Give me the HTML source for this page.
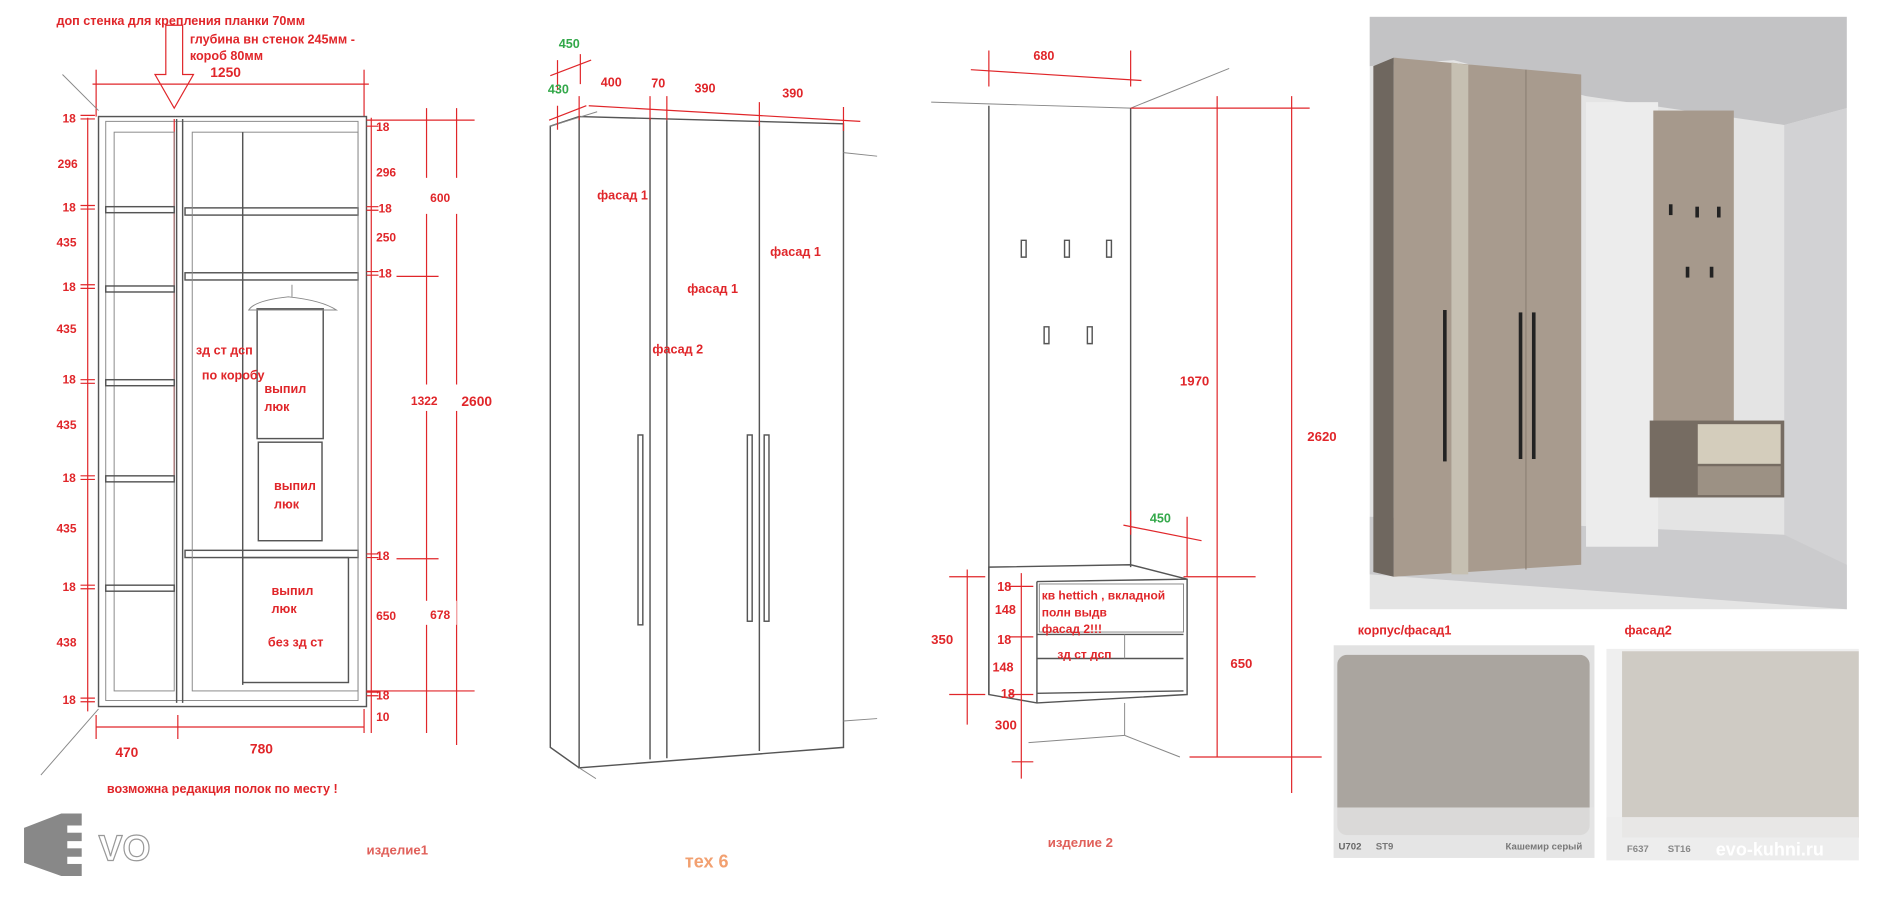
<!DOCTYPE html>
<html><head><meta charset="utf-8"><style>
html,body{margin:0;padding:0;background:#fff;width:1884px;height:900px;overflow:hidden}
svg{display:block;font-size:10.5px}
text{font-family:"Liberation Sans","DejaVu Sans",sans-serif;font-weight:bold;fill:#e0262a}
.l{stroke:#555;stroke-width:1.2;fill:none}
.lt{stroke:#888;stroke-width:0.8;fill:none}
.r{stroke:#e0262a;stroke-width:1;fill:none}
</style></head><body>
<svg width="1884" height="900" viewBox="0 0 1568 749" preserveAspectRatio="none" xmlns="http://www.w3.org/2000/svg" font-size="10.5">
<rect width="1568" height="749" fill="#fff"/>

<!-- ===== Item 1 drawing ===== -->
<text x="47" y="21">доп стенка для крепления планки 70мм</text>
<text x="158" y="36">глубина вн стенок 245мм -</text>
<text x="158" y="50">короб 80мм</text>
<text x="175" y="64" font-size="11.5">1250</text>
<polygon points="138,21 152,21 152,62 161,62 145,90 129,62 138,62" fill="#fff" stroke="#e0262a" stroke-width="1"/>
<line class="r" x1="77" y1="70" x2="307" y2="70"/>
<line class="r" x1="80" y1="58" x2="80" y2="97"/><line class="r" x1="303" y1="58" x2="303" y2="97"/>
<line class="lt" x1="52" y1="62" x2="82" y2="92"/>
<line class="lt" x1="82" y1="590" x2="34" y2="645"/>
<rect class="l" x="82" y="97" width="223" height="491"/>
<rect class="lt" x="88" y="101" width="210" height="482"/>
<line class="l" x1="147" y1="99" x2="147" y2="585"/><line class="l" x1="152" y1="99" x2="152" y2="585"/>
<line x1="145" y1="99" x2="145" y2="400" stroke="#e0262a" stroke-width="1"/>
<rect class="lt" x="95" y="110" width="50" height="465"/>
<g class="l">
<rect x="88" y="172" width="57" height="5"/><rect x="88" y="238" width="57" height="5"/><rect x="88" y="316" width="57" height="5"/><rect x="88" y="396" width="57" height="5"/><rect x="88" y="487" width="57" height="5"/>
<rect x="154" y="173" width="144" height="6"/><rect x="154" y="227" width="144" height="6"/><rect x="154" y="458" width="144" height="6"/>
</g>
<rect class="lt" x="160" y="110" width="138" height="465"/>
<line class="l" x1="202" y1="110" x2="202" y2="570"/>
<rect class="l" x="214" y="257" width="55" height="108"/>
<rect class="l" x="215" y="368" width="53" height="82"/>
<rect class="l" x="202" y="464" width="88" height="104"/>
<path class="lt" d="M207,258 Q212,250 240,247 Q268,250 280,258 Z M243,237 L243,247"/>
<text x="163" y="295">зд ст дсп</text>
<text x="168" y="316">по коробу</text>
<text x="220" y="327">выпил</text><text x="220" y="342">люк</text>
<text x="228" y="408">выпил</text><text x="228" y="423">люк</text>
<text x="226" y="495">выпил</text><text x="226" y="510">люк</text>
<text x="223" y="538">без зд ст</text>
<line class="r" x1="73" y1="98" x2="73" y2="592"/>
<g font-size="10">
<text x="52" y="102">18</text><text x="48" y="140">296</text><text x="52" y="176">18</text><text x="47" y="205">435</text><text x="52" y="242">18</text><text x="47" y="277">435</text><text x="52" y="319">18</text><text x="47" y="357">435</text><text x="52" y="401">18</text><text x="47" y="443">435</text><text x="52" y="492">18</text><text x="47" y="538">438</text><text x="52" y="586">18</text>
</g>
<path class="r" d="M67,96h12M67,99h12M67,171h12M67,174h12M67,237h12M67,240h12M67,316h12M67,319h12M67,396h12M67,399h12M67,487h12M67,490h12M67,581h12M67,584h12"/>
<line class="r" x1="309" y1="98" x2="309" y2="610"/>
<line class="r" x1="355" y1="90" x2="355" y2="610"/>
<line class="r" x1="380" y1="90" x2="380" y2="620"/>
<line class="r" x1="305" y1="100" x2="395" y2="100"/>
<line class="r" x1="330" y1="230" x2="365" y2="230"/><line class="r" x1="330" y1="465" x2="365" y2="465"/>
<line class="r" x1="305" y1="575" x2="395" y2="575"/>
<path class="r" d="M305,105h10M305,172h10M305,175h10M305,226h10M305,229h10M305,461h10M305,464h10M305,576h10M305,579h10"/>
<rect x="345" y="148" width="40" height="30" fill="#fff"/>
<rect x="340" y="320" width="80" height="22" fill="#fff"/>
<rect x="340" y="500" width="40" height="20" fill="#fff"/>
<g font-size="10">
<text x="313" y="109">18</text><text x="313" y="147">296</text><text x="315" y="177">18</text><text x="313" y="201">250</text><text x="315" y="231">18</text><text x="313" y="466">18</text><text x="313" y="516">650</text><text x="313" y="582">18</text><text x="313" y="600">10</text>
<text x="358" y="168">600</text><text x="342" y="337">1322</text><text x="358" y="515">678</text>
</g>
<text x="384" y="338" font-size="11.5">2600</text>
<line class="r" x1="80" y1="605" x2="303" y2="605"/>
<path class="r" d="M80,595v20M148,595v20M303,590v20"/>
<text x="96" y="630" font-size="11.5">470</text><text x="208" y="627" font-size="11.5">780</text>
<text x="89" y="660">возможна редакция полок по месту !</text>
<!-- EVO logo -->
<polygon points="20,689 51,677 68,677 68,729 51,729 20,718" fill="#888"/>
<g fill="#fff"><rect x="56" y="687" width="28" height="6"/><rect x="56" y="700" width="28" height="6"/><rect x="56" y="713" width="28" height="6"/></g>
<text x="82" y="716" font-size="30" font-weight="normal" style="fill:#fff;stroke:#999;stroke-width:1">VO</text>
<text x="305" y="711" font-weight="normal" style="fill:#e0605a" font-size="11">изделие1</text>

<!-- ===== tex6 doors ===== -->
<polygon class="l" points="482,97 702,103 702,622 482,639"/>
<polyline class="l" points="482,97 458,105 458,622 482,639"/>
<line class="lt" x1="458" y1="105" x2="497" y2="93"/>
<line class="l" x1="541" y1="99" x2="541" y2="632"/>
<line class="l" x1="555" y1="100" x2="555" y2="631"/>
<line class="l" x1="632" y1="102" x2="632" y2="625"/>
<line class="lt" x1="702" y1="127" x2="730" y2="130"/><line class="lt" x1="702" y1="600" x2="730" y2="598"/>
<line class="lt" x1="482" y1="639" x2="496" y2="648"/>
<rect class="l" x="531" y="362" width="4" height="158"/>
<rect class="l" x="622" y="362" width="4" height="155"/><rect class="l" x="636" y="362" width="4" height="155"/>
<line class="r" x1="490" y1="88" x2="716" y2="101"/>
<path class="r" d="M482,80v20M541,80v20M555,80v20M632,85v20M702,89v20"/>
<line class="r" x1="458" y1="63" x2="492" y2="50"/><line class="r" x1="457" y1="100" x2="488" y2="88"/>
<path class="r" d="M464,50v25M483,45v25M464,88v20"/>
<text x="465" y="40" style="fill:#33a84a">450</text><text x="456" y="78" style="fill:#33a84a">430</text>
<text x="500" y="72">400</text><text x="542" y="73">70</text><text x="578" y="77">390</text><text x="651" y="81">390</text>
<text x="497" y="166">фасад 1</text><text x="572" y="244">фасад 1</text><text x="543" y="294">фасад 2</text><text x="641" y="213">фасад 1</text>
<text x="570" y="722" font-size="15" style="fill:#f2a070">тех 6</text>

<!-- ===== Item 2 ===== -->
<line class="lt" x1="775" y1="85" x2="941" y2="90"/>
<line class="lt" x1="941" y1="90" x2="1023" y2="57"/>
<line class="l" x1="823" y1="88" x2="823" y2="578"/>
<line class="l" x1="941" y1="90" x2="941" y2="472"/>
<polygon class="l" points="823,472 941,470 988,482 988,578 863,585 823,578"/>
<line class="l" x1="863" y1="484" x2="863" y2="585"/>
<line class="l" x1="863" y1="484" x2="988" y2="482"/>
<rect class="lt" x="865" y="486" width="120" height="40"/>
<line class="l" x1="863" y1="528" x2="985" y2="528"/>
<line class="l" x1="863" y1="548" x2="985" y2="548"/>
<line class="l" x1="863" y1="577" x2="985" y2="575"/>
<line class="lt" x1="936" y1="528" x2="936" y2="548"/>
<line class="lt" x1="936" y1="585" x2="936" y2="612"/>
<line class="lt" x1="856" y1="618" x2="936" y2="612"/><line class="lt" x1="936" y1="612" x2="982" y2="630"/>
<g class="l"><path d="M850,200v14h4v-14z"/><path d="M886,200v14h4v-14z"/><path d="M921,200v14h4v-14z"/><path d="M869,272v14h4v-14z"/><path d="M905,272v14h4v-14z"/></g>
<text x="860" y="50">680</text>
<line class="r" x1="808" y1="58" x2="950" y2="67"/><path class="r" d="M823,42v30M941,42v30"/>
<line class="r" x1="1013" y1="80" x2="1013" y2="630"/><line class="r" x1="1075" y1="80" x2="1075" y2="660"/>
<line class="r" x1="941" y1="90" x2="1090" y2="90"/><line class="r" x1="990" y1="630" x2="1100" y2="630"/>
<line class="r" x1="985" y1="480" x2="1045" y2="480"/>
<text x="982" y="321" font-size="11">1970</text><text x="1088" y="367" font-size="11">2620</text>
<line class="r" x1="935" y1="437" x2="1000" y2="450"/><path class="r" d="M941,425v20M988,430v50"/>
<text x="957" y="435" style="fill:#33a84a">450</text>
<line class="r" x1="790" y1="480" x2="820" y2="480"/><line class="r" x1="790" y1="578" x2="820" y2="578"/>
<line class="r" x1="805" y1="474" x2="805" y2="603"/>
<line class="r" x1="850" y1="477" x2="850" y2="648"/><line class="r" x1="842" y1="634" x2="860" y2="634"/>
<path class="r" d="M840,488h20M840,530h20M840,578h20"/>
<text x="775" y="536" font-size="11">350</text><text x="1024" y="556" font-size="11">650</text><text x="828" y="607" font-size="11">300</text>
<g font-size="10.5"><text x="830" y="492">18</text><text x="828" y="511">148</text><text x="830" y="536">18</text><text x="826" y="559">148</text><text x="833" y="581">18</text></g>
<text x="867" y="499" font-size="10">кв hettich , вкладной</text>
<text x="867" y="513" font-size="10">полн выдв</text>
<text x="867" y="527" font-size="10">фасад 2!!!</text>
<text x="880" y="548" font-size="10">зд ст дсп</text>
<text x="872" y="705" font-weight="normal" style="fill:#e0605a" font-size="11">изделие 2</text>

<!-- ===== 3D render ===== -->
<rect x="1140" y="14" width="397" height="493" fill="#e4e4e4"/>
<polygon points="1140,14 1537,14 1537,90 1485,104 1320,80 1210,50 1140,55" fill="#c3c3c5"/>
<polygon points="1485,104 1537,90 1537,507 1485,460" fill="#d2d2d4"/>
<polygon points="1140,430 1485,445 1537,470 1537,507 1140,478" fill="#cbcbcd"/>
<rect x="1320" y="85" width="60" height="370" fill="#ececec"/>
<polygon points="1143,55 1160,48 1160,480 1143,476" fill="#6f675f"/>
<polygon points="1160,48 1316,62 1316,470 1160,480" fill="#a89b8e"/>
<polygon points="1208,52 1222,54 1222,478 1208,478" fill="#c6c0b2"/>
<line x1="1270" y1="58" x2="1270" y2="474" stroke="#8e8276" stroke-width="1"/>
<rect x="1201" y="258" width="3" height="126" fill="#222"/>
<rect x="1264" y="260" width="3" height="122" fill="#222"/><rect x="1275" y="260" width="3" height="122" fill="#222"/>
<rect x="1376" y="92" width="67" height="264" fill="#a6998c"/>
<g fill="#222"><rect x="1389" y="170" width="3" height="9"/><rect x="1411" y="172" width="3" height="9"/><rect x="1429" y="172" width="3" height="9"/><rect x="1403" y="222" width="3" height="9"/><rect x="1423" y="222" width="3" height="9"/></g>
<rect x="1373" y="350" width="112" height="64" fill="#766c62"/>
<rect x="1413" y="353" width="69" height="33" fill="#d4cdbc"/>
<rect x="1413" y="388" width="69" height="24" fill="#9c9184"/>

<!-- swatches -->
<text x="1130" y="528">корпус/фасад1</text>
<text x="1352" y="528">фасад2</text>
<rect x="1110" y="537" width="217" height="177" fill="#e2e2e2"/>
<rect x="1113" y="545" width="210" height="150" rx="8" fill="#aaa59f"/>
<rect x="1110" y="672" width="217" height="42" fill="#e6e6e6" opacity="0.8"/>
<text x="1114" y="707" font-size="8" style="fill:#666">U702</text><text x="1145" y="707" font-size="8" font-weight="normal" style="fill:#777">ST9</text>
<text x="1253" y="707" font-size="8" font-weight="normal" style="fill:#777">Кашемир серый</text>
<rect x="1337" y="540" width="210" height="176" fill="#efefef"/>
<rect x="1350" y="542" width="197" height="155" fill="#cfcbc4"/>
<rect x="1337" y="680" width="210" height="36" fill="#ececec" opacity="0.85"/>
<text x="1354" y="709" font-size="8" style="fill:#888">F637</text><text x="1388" y="709" font-size="8" font-weight="normal" style="fill:#888">ST16</text>
<text x="1428" y="712" font-size="15" font-weight="normal" style="fill:#fff">evo-kuhni.ru</text>
</svg>
</body></html>
